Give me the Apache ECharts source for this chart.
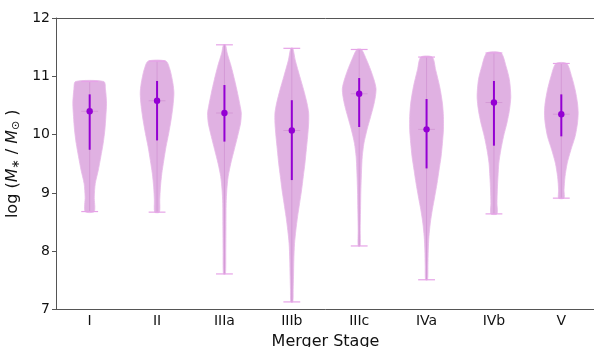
<!DOCTYPE html>
<html>
<head>
<meta charset="utf-8">
<script src="https://cdn.jsdelivr.net/npm/echarts@6/dist/echarts.min.js"></script>
<style>html,body{margin:0;padding:0;background:#fff}#c{width:594px;height:347px}</style>
</head>
<body>
<div id="c"></div>
<script>
// Categories
const categories = ['I', 'II', 'IIIa', 'IIIb', 'IIIc', 'IVa', 'IVb', 'V'];
const yTicks = [7, 8, 9, 10, 11, 12];

// Violin profiles: [log M value, relative half-width (0..1)], top to bottom
const violinI = [[10.91,0.84],[10.77,0.94],[10.54,1.0],[10.31,0.96],[10.08,0.9],[9.85,0.8],[9.62,0.66],[9.39,0.51],[9.16,0.33],[8.93,0.27],[8.68,0.27]];
const violinII = [[11.26,0.53],[11.11,0.77],[10.88,0.94],[10.71,1.0],[10.48,0.94],[10.25,0.83],[10.02,0.69],[9.79,0.53],[9.56,0.4],[9.33,0.28],[9.10,0.2],[8.88,0.16],[8.67,0.14]];
const violinIIIa = [[11.54,0.06],[11.40,0.16],[11.17,0.4],[10.94,0.6],[10.71,0.78],[10.48,0.94],[10.37,1.0],[10.20,0.96],[9.97,0.78],[9.74,0.58],[9.51,0.38],[9.28,0.22],[9.05,0.14],[8.82,0.1],[8.42,0.09],[8.02,0.08],[7.61,0.06]];
const violinIIIb = [[11.48,0.06],[11.28,0.2],[10.99,0.48],[10.77,0.7],[10.54,0.9],[10.37,1.0],[10.20,1.0],[9.97,0.94],[9.74,0.86],[9.51,0.78],[9.28,0.68],[9.05,0.58],[8.82,0.46],[8.59,0.34],[8.36,0.24],[8.13,0.16],[7.85,0.12],[7.56,0.1],[7.34,0.08],[7.13,0.06]];
const violinIIIc = [[11.46,0.14],[11.28,0.44],[11.11,0.68],[10.94,0.88],[10.79,1.0],[10.65,0.96],[10.48,0.84],[10.31,0.68],[10.08,0.46],[9.85,0.28],[9.62,0.18],[9.39,0.14],[9.05,0.1],[8.71,0.08],[8.36,0.06],[8.09,0.06]];
const violinIVa = [[11.33,0.34],[11.11,0.54],[10.82,0.78],[10.54,0.94],[10.31,1.0],[10.08,1.0],[9.85,0.94],[9.62,0.86],[9.39,0.74],[9.16,0.62],[8.93,0.48],[8.71,0.34],[8.48,0.22],[8.25,0.14],[8.02,0.1],[7.74,0.08],[7.51,0.06]];
const violinIVb = [[11.40,0.42],[11.17,0.72],[10.94,0.92],[10.65,1.0],[10.42,0.92],[10.20,0.77],[9.97,0.57],[9.74,0.41],[9.51,0.29],[9.28,0.24],[9.05,0.2],[8.82,0.18],[8.64,0.18]];
const violinV = [[11.22,0.32],[10.99,0.62],[10.77,0.82],[10.54,0.96],[10.37,1.0],[10.20,0.96],[9.97,0.82],[9.74,0.57],[9.51,0.35],[9.28,0.22],[9.05,0.16],[8.91,0.16]];

// Medians and range bars (upper / lower ends of thick line)
const medians = [10.40, 10.58, 10.37, 10.07, 10.70, 10.09, 10.55, 10.35];
const barHigh = [10.69, 10.92, 10.85, 10.59, 10.97, 10.61, 10.92, 10.69];
const barLow  = [9.74, 9.90, 9.88, 9.22, 10.13, 9.42, 9.81, 9.97];

const profiles = [violinI, violinII, violinIIIa, violinIIIb, violinIIIc, violinIVa, violinIVb, violinV];

const FILL = '#e0b1e2';
const EDGE = '#e7b9e8';
const CBAR = '#d49ad6';
const CAP = '#e6a3e7';
const DARK = '#9400d3';
const SPINE = '#555';

const violinData = categories.map((c, i) => [i]);
const summaryData = categories.map((c, i) => [i, medians[i], barLow[i], barHigh[i]]);

function renderViolin(params, api) {
  const idx = api.value(0);
  const prof = profiles[idx];
  const band = api.size([1, 0])[0];
  const maxHalf = band * 0.25;
  const cx = api.coord([idx, prof[0][0]])[0];
  const left = [], right = [];
  prof.forEach(p => {
    const y = api.coord([idx, p[0]])[1];
    left.push([cx - p[1] * maxHalf, y]);
    right.push([cx + p[1] * maxHalf, y]);
  });
  const pts = left.concat(right.reverse());
  const yTop = api.coord([idx, prof[0][0]])[1];
  const yBot = api.coord([idx, prof[prof.length - 1][0]])[1];
  const yMed = api.coord([idx, medians[idx]])[1];
  const capHalf = band * 0.125;
  return {
    type: 'group',
    children: [
      { type: 'polygon', shape: { points: pts, smooth: 0.25 }, style: { fill: FILL, stroke: EDGE, lineWidth: 0.8 } },
      { type: 'line', shape: { x1: cx, y1: yTop, x2: cx, y2: yBot }, style: { stroke: CBAR, lineWidth: 1 } },
      { type: 'line', shape: { x1: cx - capHalf, y1: yTop, x2: cx + capHalf, y2: yTop }, style: { stroke: CAP, lineWidth: 1.2 } },
      { type: 'line', shape: { x1: cx - capHalf, y1: yBot, x2: cx + capHalf, y2: yBot }, style: { stroke: CAP, lineWidth: 1.2 } },
      { type: 'line', shape: { x1: cx - capHalf, y1: yMed, x2: cx + capHalf, y2: yMed }, style: { stroke: CBAR, lineWidth: 1 } }
    ]
  };
}

function renderSummary(params, api) {
  const idx = api.value(0);
  const m = api.coord([idx, api.value(1)]);
  const lo = api.coord([idx, api.value(2)]);
  const hi = api.coord([idx, api.value(3)]);
  return {
    type: 'group',
    children: [
      { type: 'line', shape: { x1: lo[0], y1: lo[1], x2: hi[0], y2: hi[1] }, style: { stroke: DARK, lineWidth: 2 } },
      { type: 'circle', shape: { cx: m[0], cy: m[1], r: 3.2 }, style: { fill: DARK } }
    ]
  };
}

const chart = echarts.init(document.getElementById('c'), null, { renderer: 'canvas' });
chart.setOption({
  animation: false,
  backgroundColor: '#fff',
  grid: { left: 56, right: -1, top: 18, bottom: 37.5, containLabel: false, outerBoundsMode: 'none', show: false },
  xAxis: [{
    type: 'category',
    data: categories,
    boundaryGap: true,
    position: 'bottom',
    name: 'Merger Stage',
    nameLocation: 'middle',
    nameGap: 22,
    nameTextStyle: { fontFamily: 'DejaVu Sans', fontSize: 16, color: '#111' },
    axisLine: { lineStyle: { color: SPINE, width: 1 } },
    axisTick: { alignWithLabel: true, length: 4, lineStyle: { color: SPINE } },
    axisLabel: { fontFamily: 'DejaVu Sans', fontSize: 14, color: '#111', margin: 5 },
    splitLine: { show: false }
  }, {
    type: 'category',
    data: categories,
    boundaryGap: true,
    position: 'top',
    axisLine: { show: true, lineStyle: { color: SPINE, width: 1 } },
    axisTick: { show: false },
    axisLabel: { show: false },
    splitLine: { show: false }
  }],
  yAxis: {
    type: 'value',
    min: yTicks[0],
    max: yTicks[yTicks.length - 1],
    interval: 1,
    name: '{n|log (}{i|M}{s|∗}{n| / }{i|M}{s|⊙}{n| )}',
    nameLocation: 'middle',
    nameRotate: 90,
    nameGap: 28,
    nameTextStyle: {
      fontFamily: 'DejaVu Sans', fontSize: 16, color: '#111',
      rich: {
        n: { fontFamily: 'DejaVu Sans', fontSize: 16, color: '#111' },
        i: { fontFamily: 'DejaVu Sans', fontSize: 16, fontStyle: 'italic', color: '#111' },
        s: { fontFamily: 'DejaVu Sans', fontSize: 11, color: '#111', padding: [6, 0, 0, 0] }
      }
    },
    axisLine: { show: true, lineStyle: { color: SPINE, width: 1 } },
    axisTick: { show: true, length: 4, lineStyle: { color: SPINE } },
    axisLabel: { fontFamily: 'DejaVu Sans', fontSize: 14, color: '#111', margin: 6 },
    splitLine: { show: false }
  },
  series: [
    { type: 'custom', renderItem: renderViolin, data: violinData, encode: { x: 0 }, z: 2, clip: false },
    { type: 'custom', renderItem: renderSummary, data: summaryData, encode: { x: 0, y: [1, 2, 3] }, z: 3 }
  ]
});
</script>
</body>
</html>
